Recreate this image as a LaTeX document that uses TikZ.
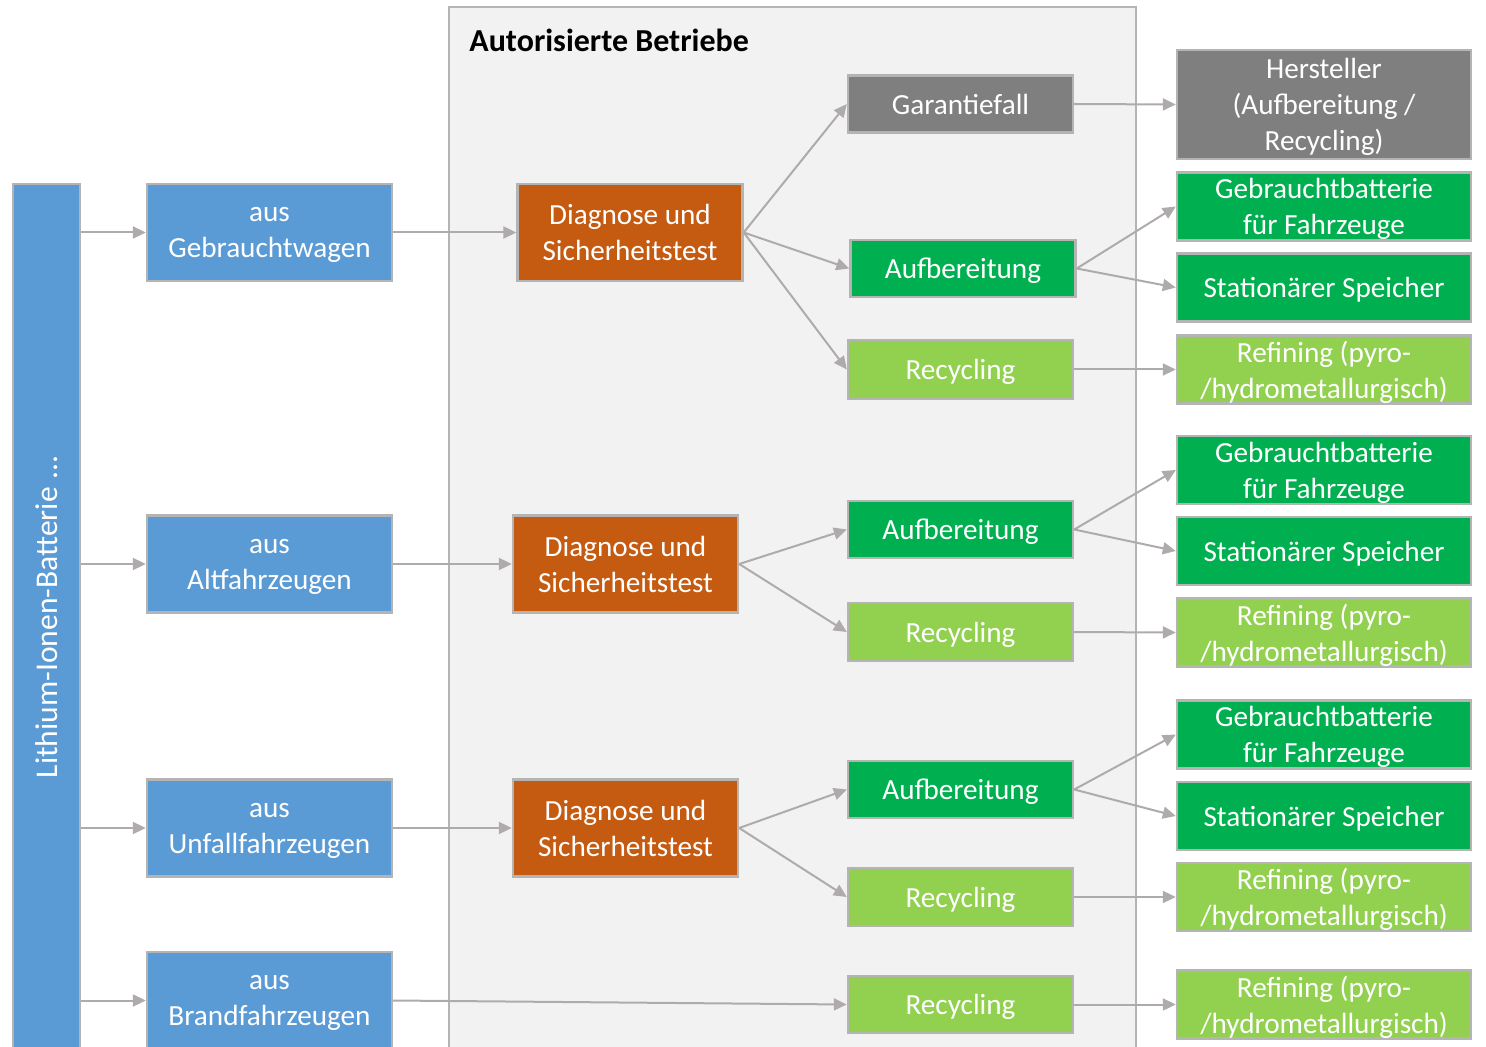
\documentclass[tikz,border=0pt]{standalone}
\usepackage{fontspec}
\setmainfont{Carlito}
\usetikzlibrary{arrows.meta}
\definecolor{blau}{HTML}{5B9BD5}
\definecolor{diag}{HTML}{C55A11}
\definecolor{grau}{HTML}{7F7F7F}
\definecolor{gruen}{HTML}{00B050}
\definecolor{hgruen}{HTML}{92D050}
\definecolor{rahmen}{HTML}{B4B4B4}
\definecolor{feld}{HTML}{F2F2F2}
\definecolor{pfeil}{HTML}{AFABAB}
\tikzset{
  kasten/.style={rectangle, draw=rahmen, line width=1.2pt, fill=#1, text=white,
                 align=center, inner sep=0pt, text depth=0pt, font=\fontsize{14.6}{18}\selectfont},
  quelle/.style={kasten=blau, minimum width=122.5pt, minimum height=48.5pt},
  pruef/.style={kasten=diag, minimum width=112.5pt, minimum height=48.5pt},
  weg/.style={kasten=#1, minimum width=112.5pt, minimum height=28.5pt},
  ziel/.style={kasten=#1, minimum width=147pt, minimum height=34pt},
  arr/.style={-{Triangle[length=6.5pt,width=6pt]}, line width=1pt, draw=pfeil},
}
\begin{document}
\begin{tikzpicture}[x=0.5pt, y=-0.5pt]
    \clip (0,0) rectangle (1486,1047);
    % Rahmen Autorisierte Betriebe
    \draw[fill=feld, draw=rahmen, line width=1pt] (449,7) rectangle (1136,1080);
    \node[anchor=west, inner sep=0pt, font=\fontsize{16}{19}\selectfont\bfseries] (titel) at (469,40) {Autorisierte Betriebe};

    \node[kasten=blau, minimum width=33.5pt, minimum height=433pt] (bat) at (46.5,617) {};
    \node[rotate=90, text=white, font=\fontsize{15.8}{18}\selectfont] (battext) at (bat.center) {Lithium-Ionen-Batterie ...};

    \node[quelle] (b1) at (269.5,232.5) {aus\\Gebrauchtwagen};
    \node[quelle] (b2) at (269.5,564) {aus\\Altfahrzeugen};
    \node[quelle] (b3) at (269.5,828) {aus\\Unfallfahrzeugen};
    \node[quelle] (b4) at (269.5,1000.5) {aus\\Brandfahrzeugen};

    \node[pruef] (d1) at (630,232.5) {Diagnose und\\Sicherheitstest};
    \node[pruef] (d2) at (625.5,564) {Diagnose und\\Sicherheitstest};
    \node[pruef] (d3) at (625.5,828) {Diagnose und\\Sicherheitstest};

    \node[weg=grau] (g1) at (960.5,104) {Garantiefall};
    \node[weg=gruen] (a1) at (963,268.5) {Aufbereitung};
    \node[weg=hgruen, minimum height=29.5pt] (r1) at (960.5,369.5) {Recycling};
    \node[weg=gruen] (a2) at (960.5,529.5) {Aufbereitung};
    \node[weg=hgruen, minimum height=29pt] (r2) at (960.5,632) {Recycling};
    \node[weg=gruen] (a3) at (960.5,789.5) {Aufbereitung};
    \node[weg=hgruen, minimum height=29pt] (r3) at (960.5,897) {Recycling};
    \node[weg=hgruen] (r4) at (960.5,1004.5) {Recycling};

    \node[ziel=grau, minimum height=54.5pt] (h1) at (1324,104.5) {Hersteller\\(Aufbereitung /\\Recycling)};
    \node[ziel=gruen] (gb1) at (1324,206.5) {Gebrauchtbatterie\\für Fahrzeuge};
    \node[ziel=gruen] (ss1) at (1324,287.5) {Stationärer Speicher};
    \node[ziel=hgruen] (rf1) at (1324,369.5) {Refining (pyro-\\/hydrometallurgisch)};
    \node[ziel=gruen] (gb2) at (1324,470) {Gebrauchtbatterie\\für Fahrzeuge};
    \node[ziel=gruen] (ss2) at (1324,551) {Stationärer Speicher};
    \node[ziel=hgruen] (rf2) at (1324,632.5) {Refining (pyro-\\/hydrometallurgisch)};
    \node[ziel=gruen] (gb3) at (1324,734.5) {Gebrauchtbatterie\\für Fahrzeuge};
    \node[ziel=gruen] (ss3) at (1324,816) {Stationärer Speicher};
    \node[ziel=hgruen] (rf3) at (1324,897) {Refining (pyro-\\/hydrometallurgisch)};
    \node[ziel=hgruen] (rf4) at (1324,1004.5) {Refining (pyro-\\/hydrometallurgisch)};

    % Pfeile
    \foreach \b in {b1,b2,b3,b4}
      \draw[arr] (bat.east |- \b.west) -- (\b.west);
    \draw[arr] (b1) -- (d1);
    \draw[arr] (b2) -- (d2);
    \draw[arr] (b3) -- (d3);
    \draw[arr] (b4.east) -- (r4.west);
    \foreach \d/\z in {d1/g1,d1/a1,d1/r1,d2/a2,d2/r2,d3/a3,d3/r3}
      \draw[arr] (\d.east) -- (\z.west);
    \foreach \a/\z in {g1/h1,a1/gb1,a1/ss1,r1/rf1,a2/gb2,a2/ss2,r2/rf2,a3/gb3,a3/ss3,r3/rf3,r4/rf4}
      \draw[arr] (\a.east) -- (\z.west);
  \end{tikzpicture}
\end{document}
